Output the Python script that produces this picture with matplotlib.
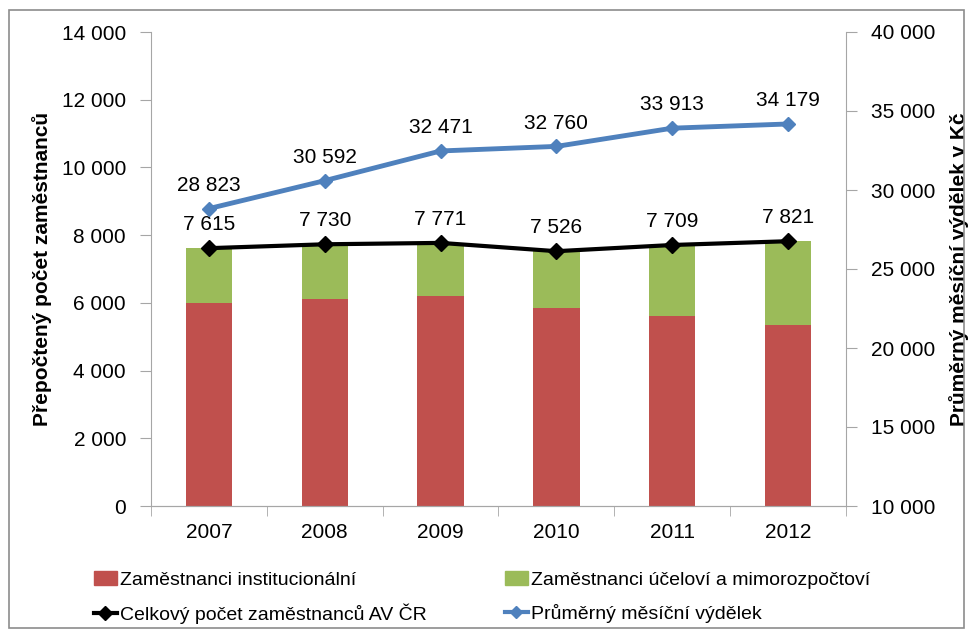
import matplotlib
matplotlib.use('Agg')
import matplotlib.pyplot as plt
import numpy as np
from matplotlib.patches import Rectangle
from matplotlib.lines import Line2D

plt.rcParams['font.family'] = ['Liberation Sans Narrow', 'Liberation Sans', 'DejaVu Sans']

# data
years = ['2007', '2008', '2009', '2010', '2011', '2012']
institucionalni = [6010, 6100, 6190, 5840, 5600, 5350]
celkem = [7615, 7730, 7771, 7526, 7709, 7821]
ucelovi = [c - i for c, i in zip(celkem, institucionalni)]
vydelek = [28823, 30592, 32471, 32760, 33913, 34179]

red = '#C0504D'
green = '#9BBB59'
blue = '#4F81BD'
axcol = '#A6A6A6'

def fmt(v):
    return f'{v:,}'.replace(',', ' ')

fig = plt.figure(figsize=(9.74, 6.37), dpi=100)
fig.patches.append(Rectangle((9 / 974, 1 - 628 / 637), 955 / 974, 618 / 637,
                             transform=fig.transFigure, fill=False,
                             edgecolor='#8c8c8c', linewidth=1.2))

ax = fig.add_axes([151 / 974, 1 - 506 / 637, 695 / 974, 474 / 637])
ax2 = ax.twinx()

x = np.arange(len(years))
ax.bar(x, institucionalni, width=0.4, color=red, zorder=2)
ax.bar(x, ucelovi, width=0.4, bottom=institucionalni, color=green, zorder=2)
ax.plot(x, celkem, color='black', linewidth=3, marker='D', markersize=8, zorder=4)
for xi, v in zip(x, celkem):
    ax.annotate(fmt(v), (xi, v), xytext=(0, 10), textcoords='offset points',
                ha='center', va='bottom', fontsize=15)

ax2.plot(x, vydelek, color=blue, linewidth=3.5, marker='D', markersize=7, zorder=4)
for xi, v in zip(x, vydelek):
    ax2.annotate(fmt(v), (xi, v), xytext=(0, 10), textcoords='offset points',
                 ha='center', va='bottom', fontsize=15)

ax.set_xlim(-0.5, len(years) - 0.5)
ax.set_ylim(0, 14000)
ax2.set_ylim(10000, 40000)
ax.set_yticks(np.arange(0, 14001, 2000))
ax2.set_yticks(np.arange(10000, 40001, 5000))
ax.set_yticklabels([fmt(v) for v in range(0, 14001, 2000)], fontsize=15)
ax2.set_yticklabels([fmt(v) for v in range(10000, 40001, 5000)], fontsize=15)

ax.set_xticks(x)
ax.set_xticklabels(years, fontsize=15)
ax.set_xticks(np.arange(-0.5, len(years)), minor=True)
ax.tick_params(axis='x', which='major', length=0, pad=12)
ax.tick_params(axis='x', which='minor', length=7, color=axcol)
ax.tick_params(axis='y', length=8, color=axcol, pad=10)
ax2.tick_params(axis='y', length=8, color=axcol, pad=10)

for a in (ax, ax2):
    a.spines['top'].set_visible(False)
    for s in ('left', 'right', 'bottom'):
        a.spines[s].set_color(axcol)
ax2.spines['left'].set_visible(False)
ax.spines['right'].set_visible(False)

ax.set_ylabel('Přepočtený počet zaměstnanců', fontsize=15, fontweight='bold', labelpad=7)
ax2.set_ylabel('Průměrný měsíční výdělek v Kč', fontsize=15, fontweight='bold', labelpad=10)

# legend filled column-wise, so order gives rows: red/green, black/blue
handles = [Rectangle((0, 0), 1, 1, color=red),
           Line2D([], [], color='black', linewidth=3, marker='D', markersize=7),
           Rectangle((0, 0), 1, 1, color=green),
           Line2D([], [], color=blue, linewidth=3, marker='D', markersize=6)]
labels = ['Zaměstnanci institucionální', 'Celkový počet zaměstnanců AV ČR',
          'Zaměstnanci účeloví a mimorozpočtoví', 'Průměrný měsíční výdělek']
fig.legend(handles, labels, loc='lower left', bbox_to_anchor=(86 / 974, 0.008),
           ncol=2, frameon=False, fontsize=14, handlelength=1.2, handletextpad=0.15,
           columnspacing=4.0, labelspacing=0.75, borderaxespad=0)

fig.savefig('out.png', dpi=100)
